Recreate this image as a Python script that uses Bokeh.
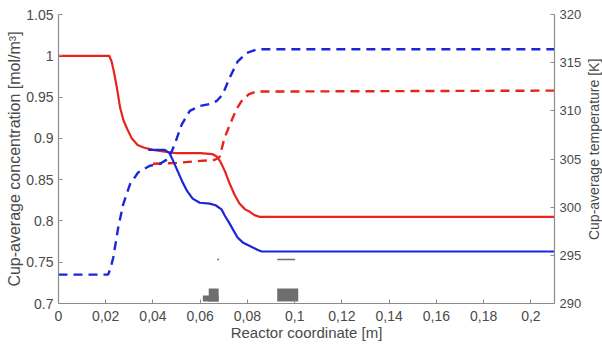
import math
from bokeh.plotting import figure
from bokeh.layouts import row
from bokeh.models import Range1d, LinearAxis, FixedTicker, CustomJSTickFormatter
from bokeh.core.properties import value
from bokeh.embed import file_html
from bokeh.resources import INLINE

# ---------------- data ----------------
x_ticks = [0, 0.02, 0.04, 0.06, 0.08, 0.10, 0.12, 0.14, 0.16, 0.18, 0.20]
conc_ticks = [0.7, 0.75, 0.8, 0.85, 0.9, 0.95, 1.0, 1.05]
temp_ticks = [290, 295, 300, 305, 310, 315, 320]

# cup-average concentration, red case (solid, left axis)
x_conc_red = [0.0, 0.0215, 0.0225, 0.0235, 0.0248, 0.0261, 0.0275, 0.029, 0.031,
              0.0335, 0.036, 0.040, 0.045, 0.050, 0.060, 0.065, 0.067, 0.0685,
              0.0705, 0.0725, 0.0745, 0.0766, 0.079, 0.081, 0.083, 0.085, 0.21]
conc_red = [1.0, 1.0, 0.993, 0.980, 0.960, 0.937, 0.922, 0.912, 0.900,
            0.892, 0.889, 0.886, 0.884, 0.882, 0.882, 0.881, 0.878, 0.872,
            0.860, 0.845, 0.832, 0.821, 0.814, 0.811, 0.807, 0.805, 0.805]

# cup-average concentration, blue case (solid, left axis)
x_conc_blue = [0.038, 0.045, 0.047, 0.0485, 0.0505, 0.0525, 0.0545, 0.0568, 0.0598,
               0.064, 0.0665, 0.069, 0.0705, 0.0724, 0.0742, 0.0758, 0.078, 0.0808,
               0.0842, 0.086, 0.21]
conc_blue = [0.886, 0.886, 0.882, 0.873, 0.860, 0.847, 0.836, 0.827, 0.822,
             0.821, 0.819, 0.814, 0.806, 0.797, 0.788, 0.780, 0.774, 0.770,
             0.765, 0.763, 0.763]

# cup-average temperature, blue case (dashed, right axis)
x_temp_blue = [0.0, 0.021, 0.022, 0.0232, 0.0253, 0.0274, 0.0303, 0.0337, 0.0387,
               0.043, 0.0463, 0.0478, 0.0493, 0.0522, 0.0556, 0.0598, 0.064, 0.0669,
               0.0695, 0.0724, 0.0758, 0.0796, 0.0842, 0.21]
temp_blue = [293.0, 293.0, 293.6, 294.8, 297.9, 300.3, 302.4, 303.6, 304.3,
             304.5, 305.0, 305.7, 306.6, 308.6, 310.0, 310.5, 310.7, 311.0,
             311.7, 313.4, 315.1, 316.0, 316.4, 316.4]

# cup-average temperature, red case (dashed, right axis)
x_temp_red = [0.040, 0.050, 0.060, 0.066, 0.0682, 0.0703, 0.0733, 0.0754, 0.0775,
              0.0805, 0.0838, 0.21]
temp_red = [304.5, 304.6, 304.8, 304.9, 305.2, 307.2, 309.0, 310.2, 311.0,
            311.7, 312.0, 312.1]

# small grey marks near the bottom of the reference (left-axis units)
mark_left = [0.0611, 0.0636, 0.0926]
mark_right = [0.0678, 0.0678, 0.1015]
mark_bottom = [0.7024, 0.7024, 0.7024]
mark_top = [0.7097, 0.7182, 0.7182]
dash_x0 = [0.0926, 0.0672]
dash_x1 = [0.1002, 0.0680]
dash_y = [0.7533, 0.7533]

temp_title = "Cup-average temperature [K]"

# ---------------- styling ----------------
RED = "#e8231c"
BLUE = "#1c26d9"
GREY = "#6e6e6e"
AXIS = "#8c8c8c"
TEXT = "#4a4a4a"
FONT = "Liberation Sans"

p = figure(width=584, height=347, output_backend="svg", toolbar_location=None,
           x_range=Range1d(0, 0.21), y_range=Range1d(0.7, 1.05),
           min_border_left=58, min_border_right=29, min_border_top=14,
           min_border_bottom=44)
p.extra_y_ranges = {"temp": Range1d(290, 320)}
p.grid.visible = False
p.outline_line_color = None
p.background_fill_color = "white"
p.border_fill_color = "white"

p.line(x_conc_red, conc_red, line_color=RED, line_width=2.2)
p.line(x_temp_red, temp_red, line_color=RED, line_width=2.4, line_dash="9 6",
       y_range_name="temp")
p.line(x_conc_blue, conc_blue, line_color=BLUE, line_width=2.2)
p.line(x_temp_blue, temp_blue, line_color=BLUE, line_width=2.4, line_dash="9 6",
       y_range_name="temp")

p.quad(left=mark_left, right=mark_right, bottom=mark_bottom, top=mark_top,
       fill_color=GREY, line_color=None)
p.segment(x0=dash_x0, y0=dash_y, x1=dash_x1, y1=dash_y, line_color=GREY,
          line_width=1.5)


def style_axis(ax, label_size, tick_size="14px"):
    ax.axis_line_color = AXIS
    ax.axis_line_width = 1.2
    ax.major_tick_line_color = AXIS
    ax.major_tick_in = 4
    ax.major_tick_out = 0
    ax.minor_tick_line_color = None
    ax.major_label_text_font = FONT
    ax.major_label_text_font_size = tick_size
    ax.major_label_text_color = TEXT
    ax.axis_label_text_font = FONT
    ax.axis_label_text_font_size = label_size
    ax.axis_label_text_font_style = "normal"
    ax.axis_label_text_color = TEXT


xa = p.xaxis[0]
xa.ticker = FixedTicker(ticks=x_ticks)
xa.formatter = CustomJSTickFormatter(code="""
let s = tick.toFixed(2).replace(/0+$/, '').replace(/\\.$/, '');
return s.replace('.', ',');
""")
xa.axis_label = "Reactor coordinate [m]"
style_axis(xa, "15px")
xa.major_label_standoff = 7
xa.axis_label_standoff = 0

ya = p.yaxis[0]
ya.ticker = FixedTicker(ticks=conc_ticks)
ya.formatter = CustomJSTickFormatter(code="""
return tick.toFixed(2).replace(/0+$/, '').replace(/\\.$/, '');
""")
ya.axis_label = "Cup-average concentration [mol/m³]"
style_axis(ya, "16px")
ya.major_label_standoff = 5
ya.axis_label_standoff = 0

ra = LinearAxis(y_range_name="temp", ticker=FixedTicker(ticks=temp_ticks))
style_axis(ra, "14px", "13px")
ra.major_label_standoff = 5
p.add_layout(ra, "right")

# narrow strip on the right carrying the right-axis title (bottom-to-top)
t = figure(width=18, height=347, output_backend="svg", toolbar_location=None,
           x_range=Range1d(0, 1), y_range=Range1d(temp_ticks[0], temp_ticks[-1]),
           x_axis_location=None, y_axis_location=None,
           min_border_left=0, min_border_right=0, min_border_top=14,
           min_border_bottom=44)
t.grid.visible = False
t.outline_line_color = None
t.background_fill_color = "white"
t.border_fill_color = "white"
t.text(x=[0.5], y=[(temp_ticks[0] + temp_ticks[-1]) / 2 + 1], text=[temp_title],
       angle=math.pi / 2, text_align="center", text_baseline="middle",
       text_font=value(FONT), text_font_size="14px", text_color=TEXT)

layout = row(p, t, spacing=0)

open("out.html", "w").write(file_html(layout, INLINE))
